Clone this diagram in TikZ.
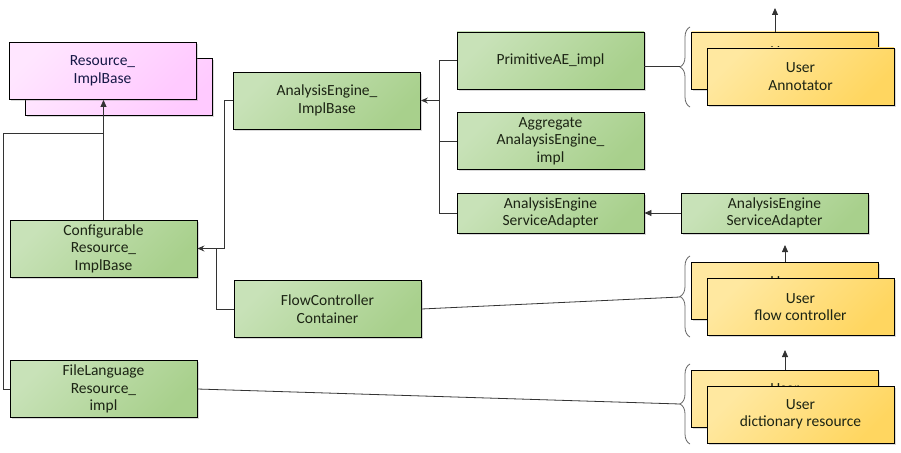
\documentclass[tikz,border=0pt]{standalone}
\usepackage{fontspec}
\setmainfont{Carlito}
\usetikzlibrary{arrows.meta,shadows,decorations.pathreplacing}

\definecolor{grlight}{RGB}{200,226,184}
\definecolor{grdark}{RGB}{168,208,140}
\definecolor{pklight}{RGB}{255,230,255}
\definecolor{pkdark}{RGB}{255,202,255}
\definecolor{yelight}{RGB}{255,232,160}
\definecolor{yedark}{RGB}{255,214,96}
\definecolor{txtgreen}{RGB}{28,36,20}
\definecolor{txtpink}{RGB}{22,24,70}

\begin{document}
\begin{tikzpicture}[x=1pt,y=-1pt,
    box/.style={draw=black,line width=0.9pt,minimum width=187pt,minimum height=57pt,
      align=center,inner sep=2pt,font=\fontsize{15.5}{17.5}\selectfont,
      drop shadow={shadow xshift=1.5pt,shadow yshift=-1.5pt,opacity=0.3}},
    greenbox/.style={box,top color=grlight,bottom color=grdark,shading angle=45,text=txtgreen},
    pinkbox/.style={box,top color=pklight,bottom color=pkdark,shading angle=45,text=txtpink},
    userbox/.style={box,top color=yelight,bottom color=yedark,shading angle=45,text=txtgreen},
    conn/.style={draw=black!80,line width=0.8pt},
    tri/.style={conn,-{Triangle[length=7pt,width=6pt]}},
    opn/.style={conn,-{Stealth[length=7pt,width=6pt,inset=2.5pt]}},
    userbrace/.style={draw=black!60,line width=0.8pt,decorate,decoration={brace,amplitude=10pt}}]

  \useasboundingbox (0,0) rectangle (901,452);

  % left column
  \node[pinkbox] (resb) at (118.5,87) {};
  \node[pinkbox] (resf) at (102.5,71) {Resource\_\\ImplBase};
  \node[greenbox] (conf) at (103.5,248.5) {Configurable\\Resource\_\\ImplBase};
  \node[greenbox] (flr) at (103.5,389) {FileLanguage\\Resource\_\\impl};

  % middle column
  \node[greenbox] (aeib) at (327,100.5) {AnalysisEngine\_\\ImplBase};
  \node[greenbox] (flow) at (327.5,309) {FlowController\\Container};

  % right column
  \node[greenbox] (prim) at (550.5,60.5) {PrimitiveAE\_impl};
  \node[greenbox] (agg) at (550.5,141) {Aggregate\\AnalaysisEngine\_\\impl};
  \node[greenbox,minimum height=40pt] (sa1) at (550.5,213) {AnalysisEngine\\ServiceAdapter};
  \node[greenbox,minimum height=40pt] (sa2) at (774.5,213) {AnalysisEngine\\ServiceAdapter};

  % user boxes
  \node[userbox] (uab) at (785,60.5) {User\\Annotator};
  \node[userbox] (uaf) at (800.5,76.5) {User\\Annotator};
  \node[userbox] (fcb) at (785,290.5) {User\\flow controller};
  \node[userbox] (fcf) at (800.5,307) {User\\flow controller};
  \node[userbox] (drb) at (785,398.5) {User\\dictionary resource};
  \node[userbox] (drf) at (800.5,414.5) {User\\dictionary resource};

  \coordinate (uatop) at (775,8);
  \coordinate (fctop) at (785,245);
  \coordinate (drtop) at (785,350);
  \draw[tri] (uatop |- uab.north) -- (uatop);
  \draw[tri] (fcb.north) -- (fctop);
  \draw[tri] (drb.north) -- (drtop);

  % braces
  \draw[userbrace] (690,107) -- (690,27);
  \draw[userbrace] (690,337) -- (690,256);
  \draw[userbrace] (690,444) -- (690,364);
  \coordinate (uabr) at (680,66);
  \coordinate (fcbr) at (680,297);
  \coordinate (drbr) at (680,404);
  \draw[conn] (prim.east |- uabr) -- (uabr);
  \draw[conn] (flow.east) -- (fcbr);
  \draw[conn] (flr.east) -- (drbr);

  % inheritance
  \coordinate (lft) at (3,133);
  \coordinate (aebend) at (224,0);
  \coordinate (flbend) at (216,0);
  \coordinate (tr) at (439,0);
  \draw[tri] (conf.north) -- (conf.north |- resf.south);
  \draw[conn] (flr.west) -| (lft) -- (lft -| conf.north);
  \draw[opn] (aeib.west) -- (aeib.west -| aebend) |- (conf.east);
  \draw[conn] (flow.west) -| (flbend |- conf.east);
  \draw[conn] (tr |- prim.west) -- (tr |- sa1.west);
  \draw[conn] (prim.west) -- (tr |- prim.west);
  \draw[conn] (agg.west) -- (tr |- agg.west);
  \draw[conn] (sa1.west) -- (tr |- sa1.west);
  \draw[opn] (aeib.east -| tr) -- (aeib.east);
  \draw[tri] (sa2.west) -- (sa1.east);
\end{tikzpicture}
\end{document}
